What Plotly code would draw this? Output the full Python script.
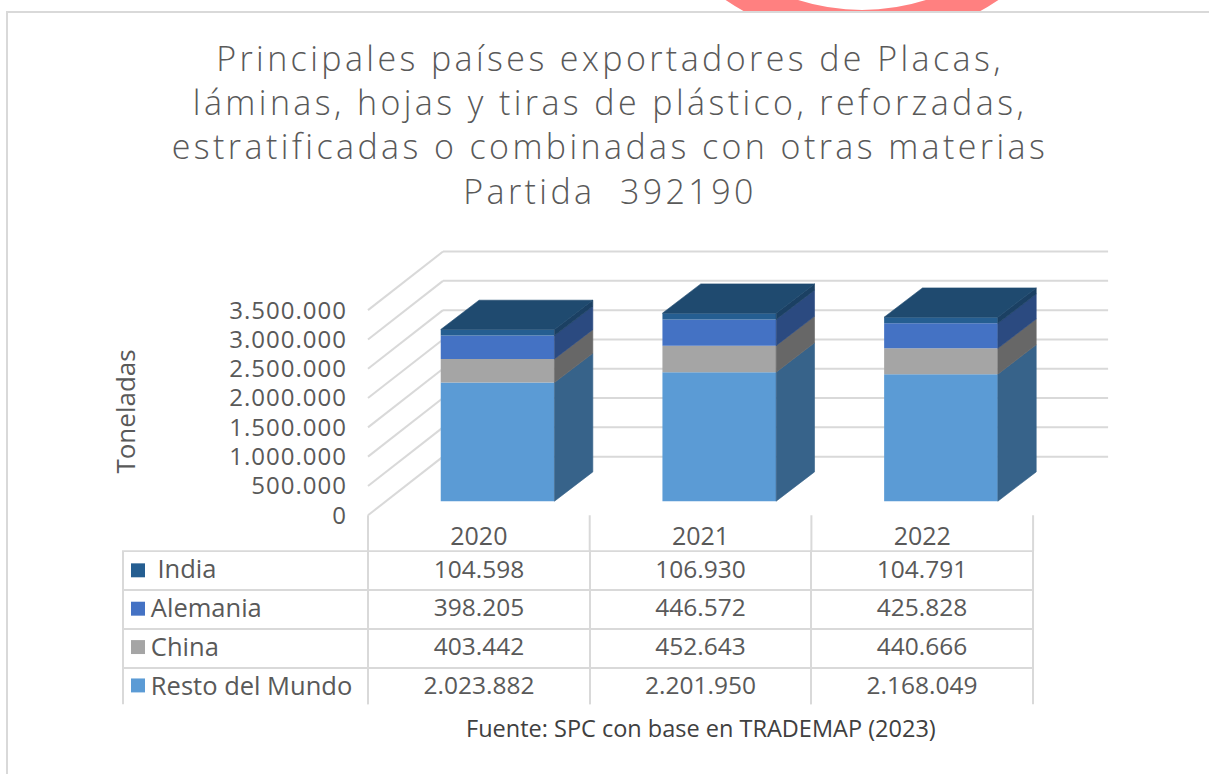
import plotly.graph_objects as go

# ---------------- data ----------------
years = ["2020", "2021", "2022"]
series_names = ["Resto del Mundo", "China", "Alemania", "India"]
resto = [2023882, 2201950, 2168049]
china = [403442, 452643, 440666]
alemania = [398205, 446572, 425828]
india = [104598, 106930, 104791]
y_ticks = [0, 500000, 1000000, 1500000, 2000000, 2500000, 3000000, 3500000]

values = [resto, china, alemania, india]
front_colors = ["#5b9bd5", "#a5a5a5", "#4472c4", "#255e91"]
side_colors = ["#37638a", "#676767", "#2b4a80", "#1b4063"]
top_color = "#1f4a6f"

W, H = 1209, 774
K = 1.011               # vertical calibration factor
FONT = "Open Sans"
TXT = "#595959"
GRID = "#d9d9d9"

# ---------------- geometry (pixel calibration) ----------------
CAT_PX = 221.7          # px per category
S = 58.8 / 1e6          # px per unit value
X_LEFT_PX = 368         # front-left of floor
Y_ZERO_PX = 517         # front-zero line
DOM_X = (360, 1122)
DOM_Y = (232, 521)
x_range = [-0.5 - (X_LEFT_PX - DOM_X[0]) / CAT_PX,
           -0.5 + (DOM_X[1] - X_LEFT_PX) / CAT_PX]
y_range = [(Y_ZERO_PX - DOM_Y[1]) / S, (Y_ZERO_PX - DOM_Y[0]) / S]

DX_FLOOR = 75 / CAT_PX   # full floor depth in x units
DY_FLOOR = 1.0e6         # full floor depth in y units
FX, FY = 0.0846, 0.24e6  # bar front-face depth shift
BDX, BDY = 0.173, 0.5e6  # bar depth
BW = 0.513               # bar width


def px(x):
    return x / W


def py(y):
    return 1 - y * K / H


def fmt(v):
    return f"{v:,}".replace(",", ".")


fig = go.Figure()

# ---------------- bars: front faces ----------------
xs = [i + FX for i in range(len(years))]
cum = [FY] * len(years)
bases_tops = []
for name, vals, col in zip(series_names, values, front_colors):
    fig.add_trace(go.Bar(
        x=xs, y=vals, base=list(cum), width=BW, name=name,
        marker=dict(color=col, line=dict(width=0)),
        hoverinfo="skip", showlegend=False,
    ))
    bases_tops.append((list(cum), [c + v for c, v in zip(cum, vals)]))
    cum = [c + v for c, v in zip(cum, vals)]

# ---------------- bars: side faces ----------------
for (bases, tops), col in zip(bases_tops, side_colors):
    sx, sy = [], []
    for i, xc in enumerate(xs):
        xr = xc + BW / 2
        sx += [xr, xr + BDX, xr + BDX, xr, xr, None]
        sy += [bases[i], bases[i] + BDY, tops[i] + BDY, tops[i], bases[i], None]
    fig.add_trace(go.Scatter(x=sx, y=sy, mode="lines", fill="toself",
                             fillcolor=col, line=dict(width=0.6, color=col),
                             hoverinfo="skip", showlegend=False))

# ---------------- bars: top faces ----------------
tx, ty = [], []
for i, xc in enumerate(xs):
    xl, xr, t = xc - BW / 2, xc + BW / 2, cum[i]
    tx += [xl, xr, xr + BDX, xl + BDX, xl, None]
    ty += [t, t, t + BDY, t + BDY, t, None]
fig.add_trace(go.Scatter(x=tx, y=ty, mode="lines", fill="toself",
                         fillcolor=top_color, line=dict(width=0.6, color=top_color),
                         hoverinfo="skip", showlegend=False))

# ---------------- shapes: background, frame, walls ----------------
shapes = []
# pink ring fragment at top (behind the white frame)
cx, cy, r = 862, -200, 226
shapes.append(dict(type="circle", xref="paper", yref="paper", layer="below",
                   x0=px(cx - r), x1=px(cx + r), y0=py(cy + r), y1=py(cy - r),
                   line=dict(color="#ff8080", width=32)))
shapes.append(dict(type="rect", xref="paper", yref="paper", layer="below",
                   x0=px(7), x1=px(1230), y0=py(820), y1=py(12),
                   fillcolor="white", line=dict(color=GRID, width=2)))
x_back0 = -0.5 + DX_FLOOR
x_back1 = len(years) - 0.5 + DX_FLOOR
for v in y_ticks:
    shapes.append(dict(type="line", xref="x", yref="y", layer="below",
                       x0=-0.5, y0=v, x1=x_back0, y1=v + DY_FLOOR,
                       line=dict(color=GRID, width=2)))
    shapes.append(dict(type="line", xref="x", yref="y", layer="below",
                       x0=x_back0, y0=v + DY_FLOOR, x1=x_back1, y1=v + DY_FLOOR,
                       line=dict(color=GRID, width=2)))
# header column separators (category boundaries)
for b in range(len(years) + 1):
    shapes.append(dict(type="line", xref="x", yref="paper",
                       x0=b - 0.5, x1=b - 0.5, y0=py(553), y1=py(517),
                       line=dict(color=GRID, width=2)))

# ---------------- data table ----------------
rows_order = [3, 2, 1, 0]  # India, Alemania, China, Resto
NB = "\u00a0"
row_labels = [(NB * 4 if k == 3 else NB * 3) + series_names[k] for k in rows_order]
row_vals = [[fmt(values[k][j]) for k in rows_order] for j in range(len(years))]

header_vals = [row_labels[0]] + [row_vals[j][0] for j in range(len(years))]
cell_cols = [row_labels[1:]] + [row_vals[j][1:] for j in range(len(years))]

TBL_TOP, ROW_H = 553, 38.5
tbl_font = dict(family=FONT, size=[25.5, 24.5, 24.5, 24.5], color=TXT)
fig.add_trace(go.Table(
    domain=dict(x=[px(123), px(1033)], y=[py(TBL_TOP + 4 * ROW_H), py(TBL_TOP)]),
    columnwidth=[245, 222, 221, 222],
    header=dict(values=header_vals, height=ROW_H * K,
                align=["left", "center", "center", "center"],
                fill=dict(color="white"), line=dict(color=GRID, width=2),
                font=tbl_font),
    cells=dict(values=cell_cols, height=ROW_H * K,
               align=["left", "center", "center", "center"],
               fill=dict(color="white"), line=dict(color=GRID, width=2),
               font=tbl_font),
))

# legend keys in the table's first column
for idx, k in enumerate(rows_order):
    yc = TBL_TOP + ROW_H * (idx + 0.5)
    shapes.append(dict(type="rect", xref="paper", yref="paper",
                       x0=px(131), x1=px(145), y0=py(yc + 7), y1=py(yc - 7),
                       fillcolor=front_colors[k], line=dict(width=0)))

# ---------------- layout ----------------
LS = "letter-spacing:3.4px"
title_lines = ["Principales países exportadores de Placas,",
               "láminas, hojas y tiras de plástico, reforzadas,",
               "estratificadas o combinadas con otras materias",
               "Partida  392190"]
title_text = "<br>".join(f'<span style="{LS}">{t}</span>' for t in title_lines)

y_ticktext = [f'<span style="letter-spacing:1px">{fmt(v)}</span>' for v in y_ticks]

fig.update_layout(
    width=W, height=H,
    margin=dict(l=0, r=0, t=0, b=0),
    paper_bgcolor="white", plot_bgcolor="rgba(0,0,0,0)",
    separators=",.",
    barmode="overlay",
    showlegend=False,
    font=dict(family=FONT, color=TXT),
    title=dict(
        text=title_text,
        x=px(610), xanchor="center", y=1 - 72 / H, yanchor="top",
        xref="paper", yref="paper",
        font=dict(family=FONT, size=34, color=TXT, weight=300),
    ),
    xaxis=dict(domain=[px(DOM_X[0]), px(DOM_X[1])], range=x_range,
               tickvals=list(range(len(years))), ticktext=years,
               showgrid=False, zeroline=False, showline=False, ticks="",
               tickfont=dict(family=FONT, size=25, color=TXT),
               fixedrange=True),
    yaxis=dict(domain=[py(DOM_Y[1]), py(DOM_Y[0])], range=y_range,
               tickvals=y_ticks, ticktext=y_ticktext,
               showgrid=False, zeroline=False, showline=False, ticks="",
               ticklabelstandoff=12,
               tickfont=dict(family=FONT, size=24, color=TXT),
               fixedrange=True),
    shapes=shapes,
    annotations=[
        dict(text="Toneladas", x=px(125), y=py(413), xref="paper", yref="paper",
             xanchor="center", yanchor="middle",
             showarrow=False, textangle=-90,
             font=dict(family=FONT, size=26, color=TXT)),
        dict(text="Fuente: SPC con base en TRADEMAP (2023)", x=px(701), y=py(730),
             xref="paper", yref="paper", xanchor="center", yanchor="middle",
             showarrow=False,
             font=dict(family=FONT, size=23.5, color="#404040")),
    ],
)

fig.write_html("out.html", config={"displayModeBar": False},
               post_script="document.body.style.margin='0';")
